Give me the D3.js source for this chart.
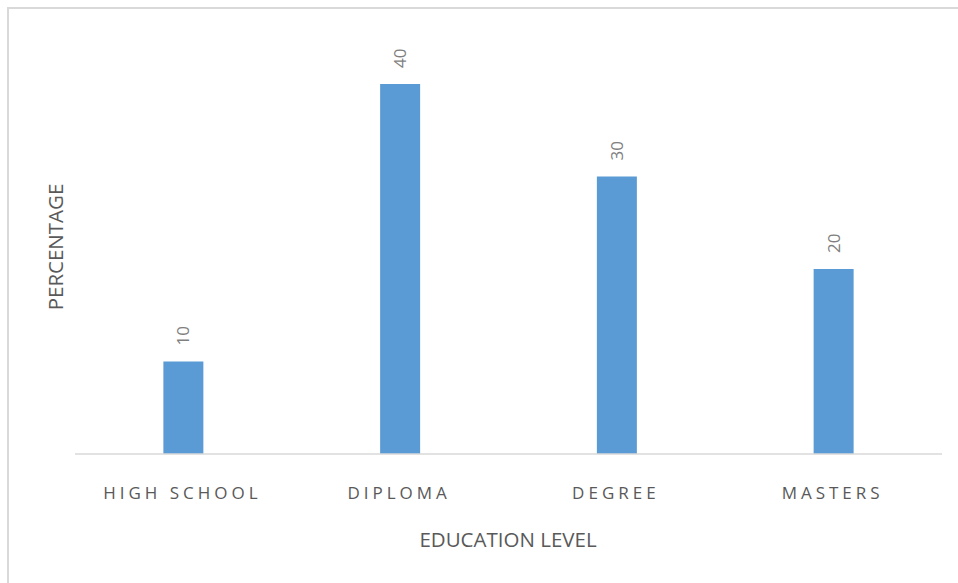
<!DOCTYPE html>
<html>
<head>
<meta charset="utf-8">
<script src="https://cdn.jsdelivr.net/npm/d3@7"></script>
<style>
  body { margin: 0; background: #fff; }
  svg { display: block; }
</style>
</head>
<body>
<svg id="chart"></svg>
<script>
// chart data
const categories = ["HIGH SCHOOL", "DIPLOMA", "DEGREE", "MASTERS"];
const values = [10, 40, 30, 20];
const xTitle = "EDUCATION LEVEL";
const yTitle = "PERCENTAGE";

const width = 958;
const height = 583;
const textColor = "#595959";

const svg = d3.select("#chart")
    .attr("width", width)
    .attr("height", height);

// chart area border (only top and left visible in frame)
svg.append("rect")
    .attr("x", 8)
    .attr("y", 8)
    .attr("width", 980)
    .attr("height", 600)
    .attr("fill", "#fff")
    .attr("stroke", "#d9d9d9")
    .attr("stroke-width", 2);

const plotLeft = 75, plotRight = 942;
const plotTop = 84, plotBottom = 454;

// band scale, bars 40px wide centred in each band
const x = d3.scaleBand()
    .domain(categories)
    .range([plotLeft, plotRight])
    .paddingInner(0.8155)
    .paddingOuter(0.8155 / 2);

const y = d3.scaleLinear()
    .domain([0, 40])
    .range([plotBottom, plotTop]);

// bars
svg.selectAll(".bar")
    .data(values)
    .enter()
    .append("rect")
    .attr("class", "bar")
    .attr("x", (d, i) => x(categories[i]))
    .attr("y", d => y(d))
    .attr("width", x.bandwidth())
    .attr("height", d => y(0) - y(d))
    .attr("fill", "#5b9bd5");

// baseline
svg.append("line")
    .attr("x1", plotLeft)
    .attr("x2", plotRight)
    .attr("y1", y(0))
    .attr("y2", y(0))
    .attr("stroke", "#d9d9d9")
    .attr("stroke-width", 1.5);

// value labels, rotated
svg.selectAll(".value")
    .data(values)
    .enter()
    .append("text")
    .attr("class", "value")
    .attr("transform", (d, i) => {
        const cx = x(categories[i]) + x.bandwidth() / 2;
        return `translate(${cx},${y(d) - 16}) rotate(-90)`;
    })
    .attr("dy", "0.35em")
    .attr("text-anchor", "start")
    .attr("font-family", "Open Sans, sans-serif")
    .attr("font-size", "17px")
    .attr("fill", "#7f7f7f")
    .text(d => d);

// category labels
svg.selectAll(".cat")
    .data(categories)
    .enter()
    .append("text")
    .attr("class", "cat")
    .attr("x", d => x(d) + x.bandwidth() / 2 - 1)
    .attr("y", 499)
    .attr("text-anchor", "middle")
    .attr("font-family", "Open Sans, sans-serif")
    .attr("font-size", "17px")
    .attr("letter-spacing", "4px")
    .attr("fill", textColor)
    .text(d => d);

// axis titles
svg.append("text")
    .attr("x", 508)
    .attr("y", 547)
    .attr("text-anchor", "middle")
    .attr("font-family", "Open Sans, sans-serif")
    .attr("font-size", "20.5px")
    .attr("fill", textColor)
    .text(xTitle);

svg.append("text")
    .attr("transform", "translate(63,247) rotate(-90)")
    .attr("text-anchor", "middle")
    .attr("font-family", "Open Sans, sans-serif")
    .attr("font-size", "20.5px")
    .attr("fill", textColor)
    .text(yTitle);
</script>
</body>
</html>
